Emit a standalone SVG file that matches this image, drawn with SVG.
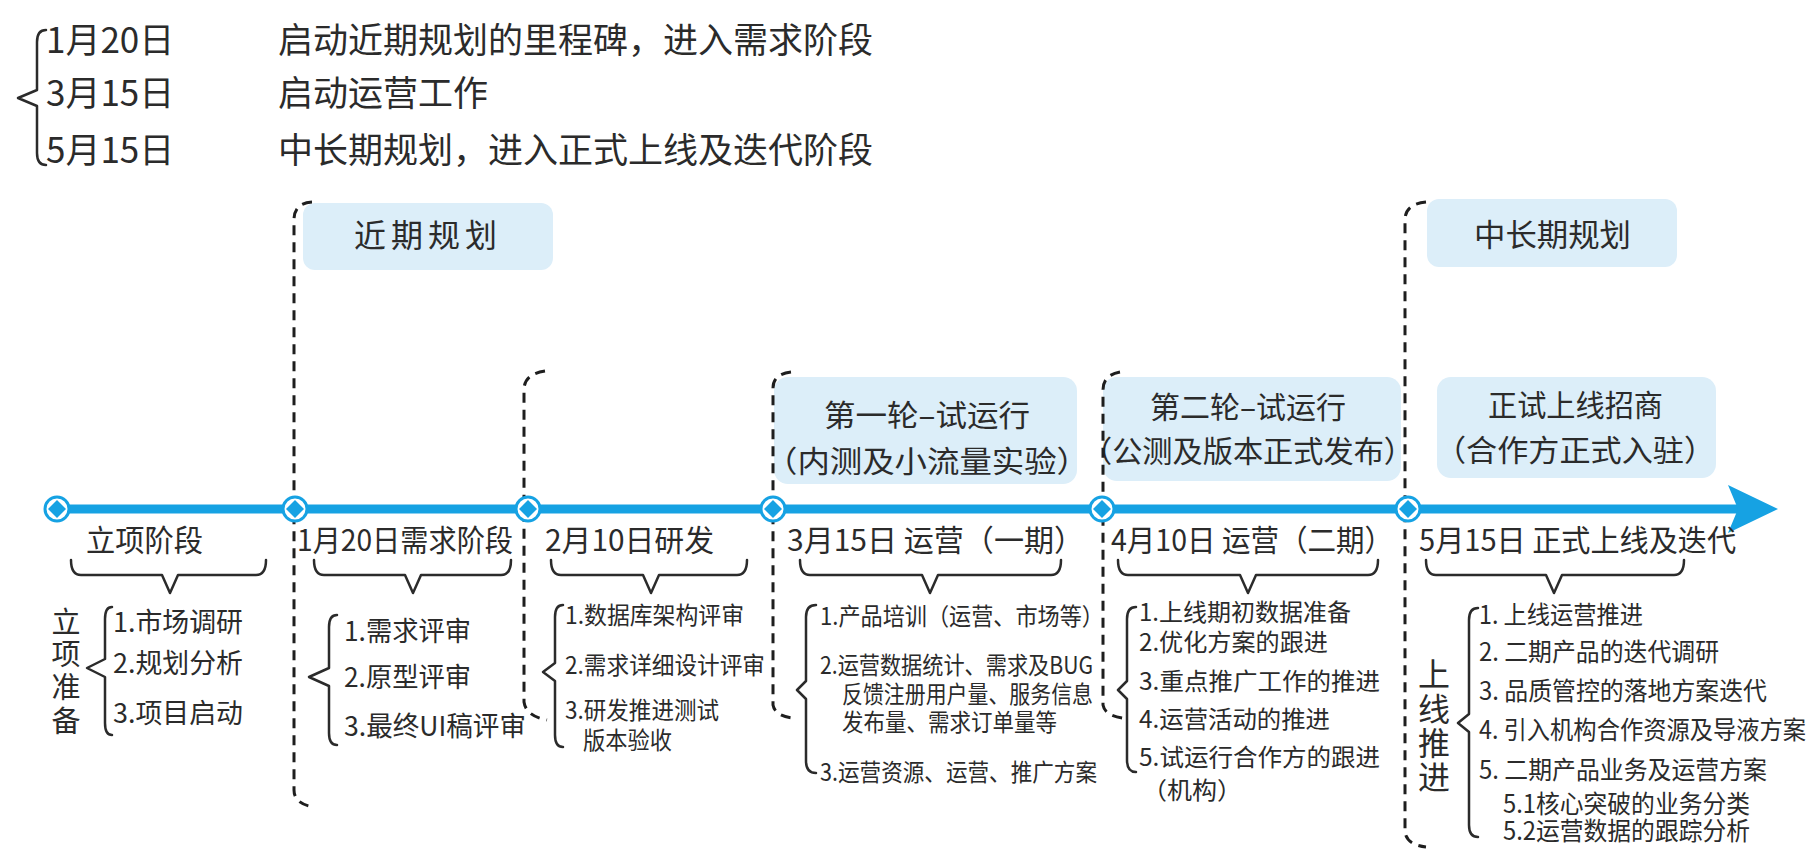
<svg xmlns="http://www.w3.org/2000/svg" width="1815" height="850" viewBox="0 0 1815 850">
<defs>
<style>
.t{font-family:"Noto Sans CJK SC","Noto Sans",sans-serif;fill:#2b2b2b}
.lg{font-size:35px}
.bx{font-size:30px}
.tl{font-size:30px}
.i27{font-size:27px}
.i24{font-size:24px}
.i25{font-size:25px}
.box{fill:#DCEEF9}
.dash{fill:none;stroke:#1e1e1e;stroke-width:3;stroke-dasharray:10 7}
.brace{fill:none;stroke:#2b2b2b;stroke-width:2.5;stroke-linejoin:round;stroke-linecap:round}
.ring{fill:#fff;stroke:#16A2E3;stroke-width:3}
.dia{fill:#16A2E3}
.line{fill:none;stroke:#16A2E3;stroke-width:9}
</style>
<marker id="arrow" markerUnits="userSpaceOnUse" viewBox="0 0 52 52" markerWidth="52" markerHeight="52" refX="10" refY="26" orient="auto">
<path d="M0,2 L50,26 L0,50 L10,26 Z" fill="#16A2E3"/>
</marker>
</defs>

<g id="legend">
<path class="brace" d="M46 30 Q37 30 37 42 L37 90 L18 98 L37 106 L37 153 Q37 165 46 165"/>
<text class="t lg" x="46" y="53">1月20日</text>
<text class="t lg" x="46" y="106">3月15日</text>
<text class="t lg" x="46" y="163">5月15日</text>
<text class="t lg" x="278" y="53">启动近期规划的里程碑，进入需求阶段</text>
<text class="t lg" x="278" y="106">启动运营工作</text>
<text class="t lg" x="278" y="163">中长期规划，进入正式上线及迭代阶段</text>
</g>

<g id="phase-near">
<rect class="box" x="303" y="203" width="250" height="67" rx="12"/>
<text class="t" style="font-size:32px" x="354" y="247" textLength="143" lengthAdjust="spacing">近期规划</text>
</g>
<g id="phase-trial1">
<rect class="box" x="774" y="377" width="303" height="107" rx="14"/>
<text class="t bx" x="824" y="426" textLength="206" lengthAdjust="spacingAndGlyphs">第一轮–试运行</text>
<text class="t bx" x="765" y="472" textLength="324" lengthAdjust="spacingAndGlyphs">（内测及小流量实验）</text>
</g>
<g id="phase-trial2">
<rect class="box" x="1103" y="377" width="298" height="104" rx="14"/>
<text class="t bx" x="1150" y="418" textLength="196" lengthAdjust="spacingAndGlyphs">第二轮–试运行</text>
<text class="t bx" x="1082" y="462" textLength="332" lengthAdjust="spacingAndGlyphs">（公测及版本正式发布）</text>
</g>
<g id="phase-long">
<rect class="box" x="1427" y="199" width="250" height="68" rx="12"/>
<text class="t" style="font-size:31px" x="1474" y="246" textLength="157" lengthAdjust="spacingAndGlyphs">中长期规划</text>
</g>
<g id="phase-launch">
<rect class="box" x="1437" y="377" width="279" height="101" rx="14"/>
<text class="t bx" x="1488" y="416" textLength="175" lengthAdjust="spacingAndGlyphs">正试上线招商</text>
<text class="t bx" x="1435" y="461" textLength="280" lengthAdjust="spacingAndGlyphs">（合作方正式入驻）</text>
</g>

<g id="dividers">
<path class="dash" d="M312 202 Q294 203 294 220 L294 790 Q294 804 314 807"/>
<path class="dash" d="M545 371 Q524 374 524 390 L524 702 Q526 716 547 720"/>
<path class="dash" d="M791 372 Q773 374 773 388 L773 705 Q775 716 793 718"/>
<path class="dash" d="M1120 372 Q1103 375 1103 390 L1103 705 Q1105 716 1123 718"/>
<path class="dash" d="M1426 202 Q1405 204 1405 220 L1405 832 Q1407 845 1426 847"/>
</g>

<g id="connectors">
<path class="line" d="M57 509 L1738 509" marker-end="url(#arrow)"/>
</g>

<g id="stage-1">
<circle class="ring" cx="57" cy="509" r="12"/>
<path class="dia" d="M57 500 L66 509 L57 518 L48 509 Z"/>
<text class="t tl" x="86" y="551" textLength="117" lengthAdjust="spacingAndGlyphs">立项阶段</text>
<path class="brace" d="M71 560 Q71 575 81 575 L162 575 L170 593 L178 575 L256 575 Q266 575 266 560"/>
<text class="t" style="font-size:29px" text-anchor="middle"><tspan x="66" y="633">立</tspan><tspan x="66" y="665">项</tspan><tspan x="66" y="698">准</tspan><tspan x="66" y="732">备</tspan></text>
<path class="brace" d="M112 607 Q105 607 105 619 L105 659 L87 668 L105 677 L105 723 Q105 735 112 735"/>
<text class="t i27" x="113" y="632" textLength="130" lengthAdjust="spacingAndGlyphs">1.市场调研</text>
<text class="t i27" x="113" y="673" textLength="130" lengthAdjust="spacingAndGlyphs">2.规划分析</text>
<text class="t i27" x="113" y="723" textLength="130" lengthAdjust="spacingAndGlyphs">3.项目启动</text>
</g>

<g id="stage-2">
<circle class="ring" cx="295" cy="509" r="12"/>
<path class="dia" d="M295 500 L304 509 L295 518 L286 509 Z"/>
<text class="t tl" x="297" y="551" textLength="216" lengthAdjust="spacingAndGlyphs">1月20日需求阶段</text>
<path class="brace" d="M314 560 Q314 575 324 575 L405 575 L413 593 L421 575 L501 575 Q511 575 511 560"/>
<path class="brace" d="M337 615 Q329 615 329 627 L329 668 L309 677 L329 686 L329 733 Q329 745 337 745"/>
<text class="t i27" x="344" y="641" textLength="127" lengthAdjust="spacingAndGlyphs">1.需求评审</text>
<text class="t i27" x="344" y="687" textLength="127" lengthAdjust="spacingAndGlyphs">2.原型评审</text>
<text class="t i27" x="344" y="736" textLength="182" lengthAdjust="spacingAndGlyphs">3.最终UI稿评审</text>
</g>

<g id="stage-3">
<circle class="ring" cx="528" cy="509" r="12"/>
<path class="dia" d="M528 500 L537 509 L528 518 L519 509 Z"/>
<text class="t tl" x="545" y="551" textLength="169" lengthAdjust="spacingAndGlyphs">2月10日研发</text>
<path class="brace" d="M551 560 Q551 575 561 575 L643 575 L651 593 L659 575 L737 575 Q747 575 747 560"/>
<path class="brace" d="M563 605 Q555 605 555 617 L555 663 L543 672 L555 681 L555 735 Q555 747 563 747"/>
<text class="t i24" x="565" y="624" textLength="179" lengthAdjust="spacingAndGlyphs">1.数据库架构评审</text>
<text class="t i24" x="565" y="674" textLength="200" lengthAdjust="spacingAndGlyphs">2.需求详细设计评审</text>
<text class="t i24" x="565" y="719" textLength="154" lengthAdjust="spacingAndGlyphs">3.研发推进测试</text>
<text class="t i24" x="583" y="749" textLength="89" lengthAdjust="spacingAndGlyphs">版本验收</text>
</g>

<g id="stage-4">
<circle class="ring" cx="773" cy="509" r="12"/>
<path class="dia" d="M773 500 L782 509 L773 518 L764 509 Z"/>
<text class="t tl" x="787" y="551" textLength="297" lengthAdjust="spacingAndGlyphs">3月15日 运营（一期）</text>
<path class="brace" d="M800 560 Q800 575 810 575 L922 575 L930 593 L938 575 L1051 575 Q1061 575 1061 560"/>
<path class="brace" d="M816 605 Q806 605 806 617 L806 681 L797 690 L806 699 L806 761 Q806 773 816 773"/>
<text class="t i24" x="820" y="625" textLength="284" lengthAdjust="spacingAndGlyphs">1.产品培训（运营、市场等）</text>
<text class="t i24" x="820" y="674" textLength="273" lengthAdjust="spacingAndGlyphs">2.运营数据统计、需求及BUG</text>
<text class="t i24" x="842" y="703" textLength="251" lengthAdjust="spacingAndGlyphs">反馈注册用户量、服务信息</text>
<text class="t i24" x="842" y="731" textLength="215" lengthAdjust="spacingAndGlyphs">发布量、需求订单量等</text>
<text class="t i24" x="820" y="781" textLength="277" lengthAdjust="spacingAndGlyphs">3.运营资源、运营、推广方案</text>
</g>

<g id="stage-5">
<circle class="ring" cx="1102" cy="509" r="12"/>
<path class="dia" d="M1102 500 L1111 509 L1102 518 L1093 509 Z"/>
<text class="t tl" x="1111" y="551" textLength="282" lengthAdjust="spacingAndGlyphs">4月10日 运营（二期）</text>
<path class="brace" d="M1118 560 Q1118 575 1128 575 L1240 575 L1248 593 L1256 575 L1368 575 Q1378 575 1378 560"/>
<path class="brace" d="M1136 607 Q1127 607 1127 619 L1127 681 L1118 690 L1127 699 L1127 760 Q1127 772 1136 772"/>
<text class="t i24" x="1139" y="621" textLength="212" lengthAdjust="spacingAndGlyphs">1.上线期初数据准备</text>
<text class="t i24" x="1139" y="651" textLength="189" lengthAdjust="spacingAndGlyphs">2.优化方案的跟进</text>
<text class="t i24" x="1139" y="690" textLength="241" lengthAdjust="spacingAndGlyphs">3.重点推广工作的推进</text>
<text class="t i24" x="1139" y="728" textLength="191" lengthAdjust="spacingAndGlyphs">4.运营活动的推进</text>
<text class="t i24" x="1139" y="766" textLength="241" lengthAdjust="spacingAndGlyphs">5.试运行合作方的跟进</text>
<text class="t i24" x="1142" y="799" textLength="100" lengthAdjust="spacingAndGlyphs">（机构）</text>
</g>

<g id="stage-6">
<circle class="ring" cx="1408" cy="509" r="12"/>
<path class="dia" d="M1408 500 L1417 509 L1408 518 L1399 509 Z"/>
<text class="t tl" x="1419" y="551" textLength="317" lengthAdjust="spacingAndGlyphs">5月15日 正式上线及迭代</text>
<path class="brace" d="M1426 560 Q1426 575 1436 575 L1546 575 L1554 593 L1562 575 L1674 575 Q1684 575 1684 560"/>
<text class="t" style="font-size:32px" text-anchor="middle"><tspan x="1434" y="686">上</tspan><tspan x="1434" y="721">线</tspan><tspan x="1434" y="755">推</tspan><tspan x="1434" y="789">进</tspan></text>
<path class="brace" d="M1478 608 Q1469 608 1469 620 L1469 714 L1458 723 L1469 732 L1469 825 Q1469 837 1478 837"/>
<text class="t i25" x="1479" y="624" textLength="164" lengthAdjust="spacingAndGlyphs">1. 上线运营推进</text>
<text class="t i25" x="1479" y="661" textLength="240" lengthAdjust="spacingAndGlyphs">2. 二期产品的迭代调研</text>
<text class="t i25" x="1479" y="700" textLength="288" lengthAdjust="spacingAndGlyphs">3. 品质管控的落地方案迭代</text>
<text class="t i25" x="1479" y="739" textLength="327" lengthAdjust="spacingAndGlyphs">4. 引入机构合作资源及导液方案</text>
<text class="t i25" x="1479" y="779" textLength="288" lengthAdjust="spacingAndGlyphs">5. 二期产品业务及运营方案</text>
<text class="t i25" x="1503" y="813" textLength="247" lengthAdjust="spacingAndGlyphs">5.1核心突破的业务分类</text>
<text class="t i25" x="1503" y="840" textLength="247" lengthAdjust="spacingAndGlyphs">5.2运营数据的跟踪分析</text>
</g>
</svg>
